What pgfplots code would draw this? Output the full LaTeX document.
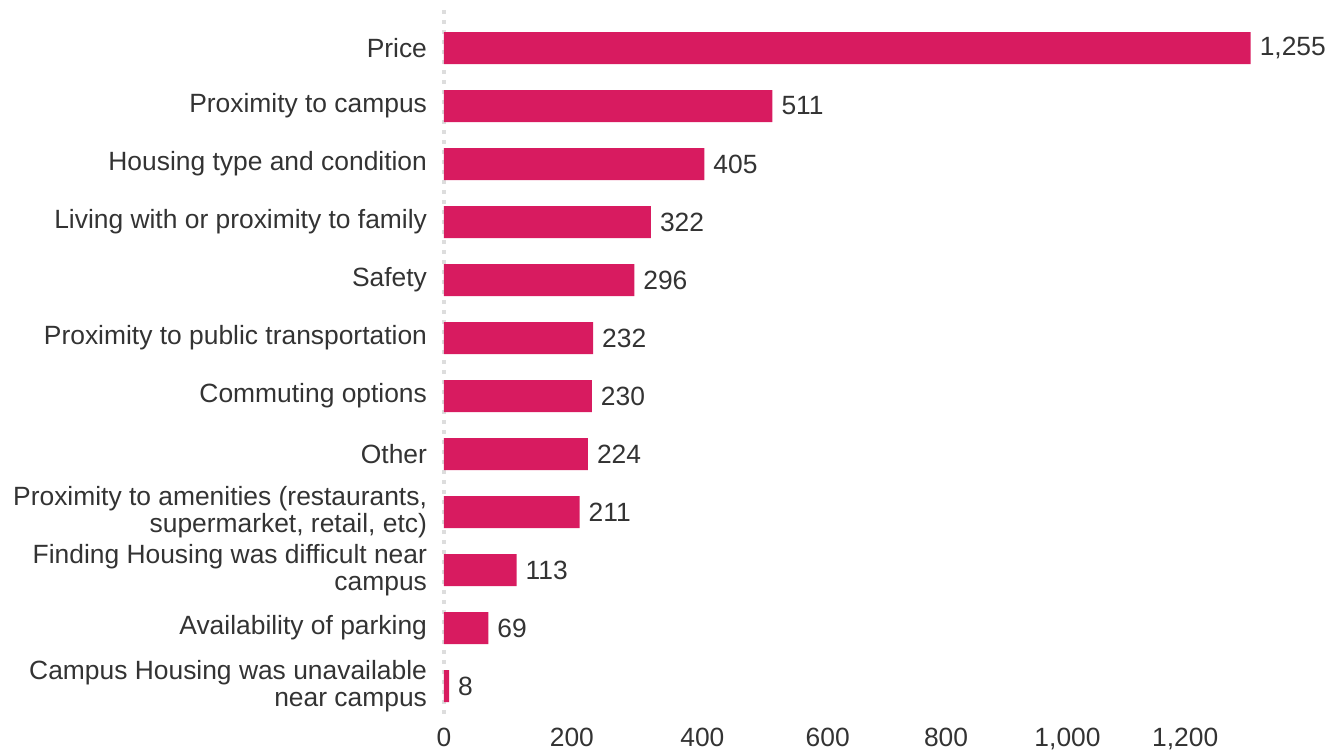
\documentclass[border=0pt]{standalone}
\usepackage{pgfplots}
\pgfplotsset{compat=1.18}
\usepackage{fontspec}
\setmainfont{Liberation Sans}
\definecolor{barc}{HTML}{D81B60}
\definecolor{txt}{HTML}{333333}
\definecolor{axc}{HTML}{DDDDDD}
\begin{document}
\begin{tikzpicture}
\begin{axis}[
  scale only axis,
  width=449pt, height=355pt,
  at={(0,0)}, anchor=south west,
  xbar, bar width=16pt,
  y dir=reverse,
  xmin=0, xmax=1397,
  ymin=-0.655, ymax=11.586,
  axis line style={draw=none},
  xtick=\empty,
  ytick={0,...,11},
  yticklabels={Price,Proximity to campus,Housing type and condition,Living with or proximity to family,Safety,Proximity to public transportation,Commuting options,Other,{Proximity to amenities (restaurants,\\supermarket, retail, etc)},{Finding Housing was difficult near\\campus},Availability of parking,{Campus Housing was unavailable\\near campus}},
  yticklabel style={align=right, font=\fontsize{13.2}{13.2}\selectfont, text=txt, xshift=-5pt},
  major tick length=0pt,
  nodes near coords,
  nodes near coords style={anchor=west, font=\fontsize{13.2}{13.4}\selectfont, text=txt, xshift=1pt, /pgf/number format/.cd, fixed, 1000 sep={,}, assume math mode=true},
  point meta=x,
  clip=false,
]
\draw[axc, line width=2pt, dash pattern=on 2pt off 3pt] (axis cs:0,-0.655) -- (axis cs:0,11.586);
\addplot[draw=none, fill=barc] coordinates {
(1255,0) (511,1) (405,2) (322,3) (296,4) (232,5) (230,6) (224,7) (211,8) (113,9) (69,10) (8,11)
};
\node[anchor=north, text=txt, font=\fontsize{13.2}{13.4}\selectfont, inner sep=0pt] at (axis cs:0,11.586) [yshift=-4pt] {0};
\node[anchor=north, text=txt, font=\fontsize{13.2}{13.4}\selectfont, inner sep=0pt] at (axis cs:199,11.586) [yshift=-4pt] {200};
\node[anchor=north, text=txt, font=\fontsize{13.2}{13.4}\selectfont, inner sep=0pt] at (axis cs:402,11.586) [yshift=-4pt] {400};
\node[anchor=north, text=txt, font=\fontsize{13.2}{13.4}\selectfont, inner sep=0pt] at (axis cs:597,11.586) [yshift=-4pt] {600};
\node[anchor=north, text=txt, font=\fontsize{13.2}{13.4}\selectfont, inner sep=0pt] at (axis cs:781,11.586) [yshift=-4pt] {800};
\node[anchor=north, text=txt, font=\fontsize{13.2}{13.4}\selectfont, inner sep=0pt] at (axis cs:970,11.586) [yshift=-4pt] {1,000};
\node[anchor=north, text=txt, font=\fontsize{13.2}{13.4}\selectfont, inner sep=0pt] at (axis cs:1153,11.586) [yshift=-4pt] {1,200};
\end{axis}
\pgfresetboundingbox
\useasboundingbox (-222pt,-16pt) rectangle (449.5pt,360pt);
\end{tikzpicture}
\end{document}
